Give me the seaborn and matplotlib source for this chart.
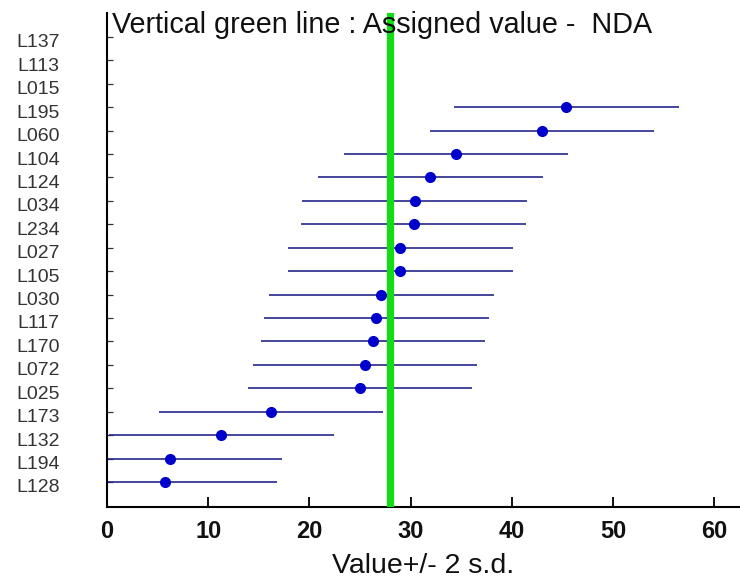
import numpy as np
import matplotlib
matplotlib.use('Agg')
import matplotlib.pyplot as plt
import matplotlib.transforms as mtransforms
import seaborn as sns

# labs from top to bottom
labs = ['L137', 'L113', 'L015', 'L195', 'L060', 'L104', 'L124', 'L034', 'L234', 'L027',
        'L105', 'L030', 'L117', 'L170', 'L072', 'L025', 'L173', 'L132', 'L194', 'L128']
values = [np.nan, np.nan, np.nan, 45.4, 43.0, 34.5, 31.95, 30.4, 30.3, 29.0,
          29.0, 27.1, 26.6, 26.3, 25.5, 25.0, 16.2, 11.3, 6.2, 5.7]
two_sd = [np.nan, np.nan, np.nan, 11.1, 11.1, 11.1, 11.1, 11.1, 11.1, 11.1,
          11.1, 11.1, 11.1, 11.1, 11.1, 11.1, 11.1, 11.1, 11.1, 11.1]
assigned = 28.0
x_ticks = [0, 10, 20, 30, 40, 50, 60]

sns.set_theme(style='white')
plt.rcParams['font.family'] = ['Liberation Sans', 'DejaVu Sans']

fig = plt.figure(figsize=(7.4, 5.85), dpi=100)
ax = fig.add_axes([107 / 740, 78 / 585, 633 / 740, 494 / 585])

vals = np.array(values)
err = np.array(two_sd)
pos = np.arange(len(labs))[::-1]
ok = ~np.isnan(vals)

# error bars (value +/- 2 s.d.)
ax.hlines(pos[ok], vals[ok] - err[ok], vals[ok] + err[ok], color='#25258a', lw=1.2, zorder=2)
# assigned value
ax.axvline(assigned, color='#14dc14', lw=5.2, zorder=3)
sns.scatterplot(x=vals[ok], y=pos[ok], ax=ax, color='#0000cc', s=64, marker='o',
                linewidth=0, zorder=4, legend=False)

ax.set_xlim(0, 62.55)
ax.set_ylim(-1.07, 20.02)
ax.set_xticks(x_ticks)
ax.set_xticklabels([str(t) for t in x_ticks], fontsize=17, fontweight='bold', color='#111111')
ax.set_yticks(pos)
ax.set_yticklabels(labs, fontsize=14, color='#333333')

ax.tick_params(axis='x', direction='in', length=7, width=1.3, pad=9.5, color='black', bottom=True)
ax.tick_params(axis='y', direction='in', length=4.5, width=0.9, pad=34, color='#333333', left=True)

offset = mtransforms.ScaledTranslation(0, -4 / 100, fig.dpi_scale_trans)
for lab in ax.get_yticklabels():
    lab.set_transform(lab.get_transform() + offset)

for side in ['top', 'right']:
    ax.spines[side].set_visible(False)
for side in ['left', 'bottom']:
    ax.spines[side].set_color('black')
    ax.spines[side].set_linewidth(1.5)

ax.set_xlabel('Value+/- 2 s.d.', fontsize=20.5, color='#111111')
ax.xaxis.set_label_coords(0.5, -0.093)
ax.xaxis.label.set_va('top')

fig.text(112 / 740, 1 - 33 / 585, 'Vertical green line : Assigned value -  NDA',
         fontsize=20.7, color='#111111', va='baseline', ha='left')

fig.savefig('out.png', dpi=100)
